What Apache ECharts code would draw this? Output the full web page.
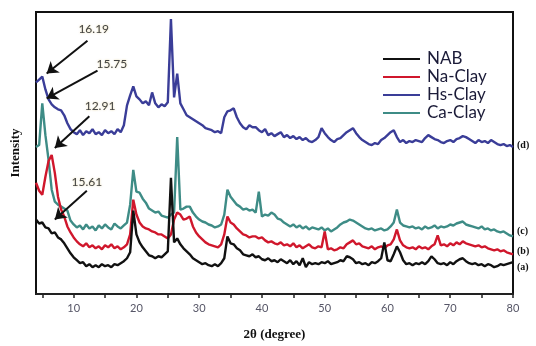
<!DOCTYPE html>
<html>
<head>
<meta charset="utf-8">
<script src="https://cdn.jsdelivr.net/npm/echarts@6/dist/echarts.min.js"></script>
<style>
  html, body { margin: 0; padding: 0; background: #fff; }
  #xrd_chart { width: 536px; height: 346px; }
</style>
</head>
<body>
<div id="xrd_chart"></div>
<script>
// 2theta grid: 4..80 degree, every 0.5
var angleStart = 4, angleStep = 0.5;

var seriesNames = ['NAB', 'Na-Clay', 'Hs-Clay', 'Ca-Clay'];
var endTags = ['(a)', '(b)', '(d)', '(c)'];

var nab = [
    75, 71, 72, 67, 66, 61, 62, 57, 55, 51,
    46, 41, 37, 34, 31, 32, 28, 30, 27, 29,
    27, 30, 28, 29, 27, 30, 29, 31, 33, 36,
    42, 84, 60, 52, 47, 43, 39, 38, 36, 38,
    37, 40, 43, 117, 52, 56, 50, 46, 43, 40,
    36, 34, 32, 30, 31, 29, 28, 30, 28, 31,
    36, 58, 51, 50, 46, 44, 40, 39, 38, 40,
    37, 38, 35, 34, 36, 33, 34, 32, 35, 33,
    31, 34, 30, 33, 29, 36, 27, 32, 30, 31,
    30, 32, 31, 33, 30, 31, 32, 34, 33, 38,
    37, 35, 31, 32, 30, 31, 29, 32, 31, 33,
    36, 52, 34, 33, 40, 48, 42, 34, 30, 31,
    29, 31, 30, 32, 30, 33, 38, 35, 31, 30,
    31, 29, 32, 30, 33, 35, 36, 33, 31, 30,
    31, 29, 30, 28, 30, 29, 27, 28, 30, 29,
    30, 31, 32
];
var naClay = [
    112, 104, 100, 118, 134, 140, 122, 98, 85, 78,
    68, 62, 57, 53, 50, 48, 51, 47, 49, 46,
    48, 45, 49, 47, 50, 46, 48, 45, 47, 50,
    60, 95, 80, 72, 68, 66, 65, 63, 62, 60,
    60, 58, 56, 60, 75, 82, 80, 75, 76, 78,
    68, 62, 58, 55, 52, 50, 49, 48, 47, 50,
    60, 78, 72, 70, 66, 63, 60, 59, 57, 58,
    58, 56, 57, 54, 52, 53, 51, 50, 52, 49,
    50, 48, 51, 47, 49, 46, 48, 50, 47, 46,
    48, 47, 63, 45, 46, 44, 45, 47, 46, 50,
    52, 54, 50, 51, 48, 47, 46, 48, 45, 47,
    48, 46, 49, 50, 55, 65, 54, 49, 47, 46,
    47, 45, 48, 46, 47, 45, 48, 50, 59, 49,
    50, 48, 51, 49, 52, 50, 53, 51, 50, 49,
    48, 49, 47, 48, 46, 45, 44, 45, 43, 44,
    42, 41, 40
];
var hsClay = [
    213, 216, 219, 206, 196, 191, 188, 186, 185, 180,
    172, 166, 163, 161, 165, 160, 164, 162, 166, 161,
    163, 160, 165, 162, 164, 161, 166, 163, 170, 190,
    200, 209, 199, 196, 192, 194, 190, 203, 192, 188,
    191, 189, 193, 277, 198, 222, 192, 186, 180, 178,
    176, 174, 172, 170, 167, 166, 165, 163, 164, 162,
    178, 184, 185, 187, 178, 172, 168, 166, 170, 168,
    168, 165, 163, 166, 160, 162, 159, 161, 163, 158,
    160, 157, 159, 156, 158, 155, 157, 154, 153, 155,
    158, 167, 162, 158, 155, 153, 156, 157, 160, 163,
    165, 167, 162, 158, 155, 153, 151, 150, 152, 151,
    155, 157, 160, 163, 165, 158, 153, 155, 152, 154,
    153, 155, 154, 153, 157, 160, 158, 156, 155, 153,
    152, 154, 155, 153, 156, 157, 159, 158, 156, 154,
    152, 155, 153, 154, 152, 155, 153, 151, 150, 151,
    149, 150, 148
];
var caClay = [
    148, 150, 192, 160, 135, 105, 93, 90, 88, 86,
    84, 74, 70, 67, 69, 65, 70, 66, 68, 64,
    69, 66, 70, 67, 65, 71, 68, 66, 69, 72,
    90, 125, 103, 102, 96, 92, 86, 84, 82, 83,
    79, 78, 77, 80, 82, 158, 85, 86, 88, 88,
    82, 78, 75, 73, 72, 70, 69, 67, 68, 70,
    80, 105, 98, 94, 90, 88, 85, 86, 84, 85,
    82, 103, 78, 80, 79, 82, 80, 76, 75, 72,
    70, 68, 70, 67, 69, 66, 68, 65, 67, 66,
    65, 67, 64, 66, 63, 65, 67, 70, 72, 73,
    75, 74, 72, 70, 68, 66, 65, 66, 64, 65,
    66, 64, 65, 68, 72, 85, 72, 69, 68, 67,
    68, 66, 67, 65, 68, 66, 67, 69, 66, 68,
    67, 68, 70, 69, 71, 72, 73, 70, 69, 68,
    67, 66, 68, 65, 66, 64, 65, 63, 62, 63,
    61, 59, 58
];

var colors = ['#111111', '#d0172c', '#3a3d98', '#3e8c86'];
var tagOffsets = [[0, 5], [0, -3], [0, -2], [0, -5]];

// annotation arrows (angle, intensity)
var noteLabels = ['16.19', '15.75', '12.91', '15.61'];
var noteTail = [[12.2, 255], [13.8, 225], [12.5, 179], [12.1, 104]];
var noteTip = [[5.7, 222], [5.7, 197], [7.0, 147], [7.0, 75]];
var noteText = [[13.2, 267], [16.1, 232], [14.2, 189], [12.1, 113]];

function pairs(values){
    return values.map(function(v, i){ return [angleStart + i * angleStep, v]; });
}

var myChart = echarts.init(document.getElementById('xrd_chart'));
var allValues = [nab, naClay, hsClay, caClay];

var series = allValues.map(function(vals, k){
    return {
        name: seriesNames[k],
        type: 'line',
        data: pairs(vals),
        showSymbol: false,
        symbol: 'none',
        z: 5 - k,
        lineStyle: { color: colors[k], width: 2.4 },
        itemStyle: { color: colors[k] },
        endLabel: {
            show: true,
            formatter: endTags[k],
            color: '#111',
            fontFamily: 'Liberation Serif',
            fontWeight: 'bold',
            fontSize: 10,
            distance: 4,
            offset: tagOffsets[k]
        },
        animation: false
    };
});

// arrows and their numbers go on the first series
series[0].markLine = {
    silent: true,
    symbol: ['none', 'arrow'],
    symbolSize: 11,
    label: { show: false },
    lineStyle: { color: '#111', width: 2, type: 'solid' },
    data: noteTail.map(function(t, i){
        return [{ coord: t }, { coord: noteTip[i] }];
    }),
    animation: false
};
series[0].markPoint = {
    silent: true,
    symbol: 'circle',
    symbolSize: 0,
    label: {
        show: true,
        position: 'inside',
        color: '#444',
        fontFamily: 'Lato',
        fontSize: 12,
        textShadowColor: 'rgba(200,170,60,0.5)',
        textShadowBlur: 2,
        formatter: function(p){ return p.name; }
    },
    data: noteText.map(function(t, i){
        return { name: noteLabels[i], coord: t };
    }),
    animation: false
};

var option = {
    animation: false,
    grid: {
        left: 36, top: 12, right: 23, bottom: 49,
        show: true,
        borderColor: '#111',
        borderWidth: 2,
        backgroundColor: 'transparent'
    },
    legend: {
        data: seriesNames,
        orient: 'vertical',
        left: 378,
        top: 45,
        itemWidth: 37,
        itemHeight: 2,
        itemGap: 0,
        icon: 'rect',
        textStyle: {
            color: '#1b1b38',
            fontFamily: 'Lato',
            fontSize: 17,
            lineHeight: 18,
            padding: [0, 0, 0, 2]
        }
    },
    xAxis: {
        type: 'value',
        min: 4,
        max: 80,
        splitNumber: 15,
        minInterval: 5,
        maxInterval: 5,
        name: '2θ (degree)',
        nameLocation: 'middle',
        nameGap: 34,
        nameTextStyle: {
            color: '#111',
            fontFamily: 'Liberation Serif',
            fontWeight: 'bold',
            fontSize: 13
        },
        axisLine: { show: true, lineStyle: { color: '#222', width: 2 } },
        axisTick: { show: true, length: 4, lineStyle: { color: '#222', width: 1.5 } },
        axisLabel: {
            color: '#555566',
            fontFamily: 'Lato',
            fontSize: 11,
            margin: 9,
            showMinLabel: false,
            formatter: function(v){ return v % 10 === 0 ? String(v) : ''; }
        },
        splitLine: { show: false }
    },
    yAxis: {
        type: 'value',
        min: 0,
        max: 284,
        name: 'Intensity',
        nameLocation: 'middle',
        nameGap: 14,
        nameTextStyle: {
            color: '#111',
            fontFamily: 'Liberation Serif',
            fontWeight: 'bold',
            fontSize: 13
        },
        axisLine: { show: true, lineStyle: { color: '#111', width: 2 } },
        axisTick: { show: false },
        axisLabel: { show: false },
        splitLine: { show: false }
    },
    series: series
};
myChart.setOption(option);
</script>
</body>
</html>
